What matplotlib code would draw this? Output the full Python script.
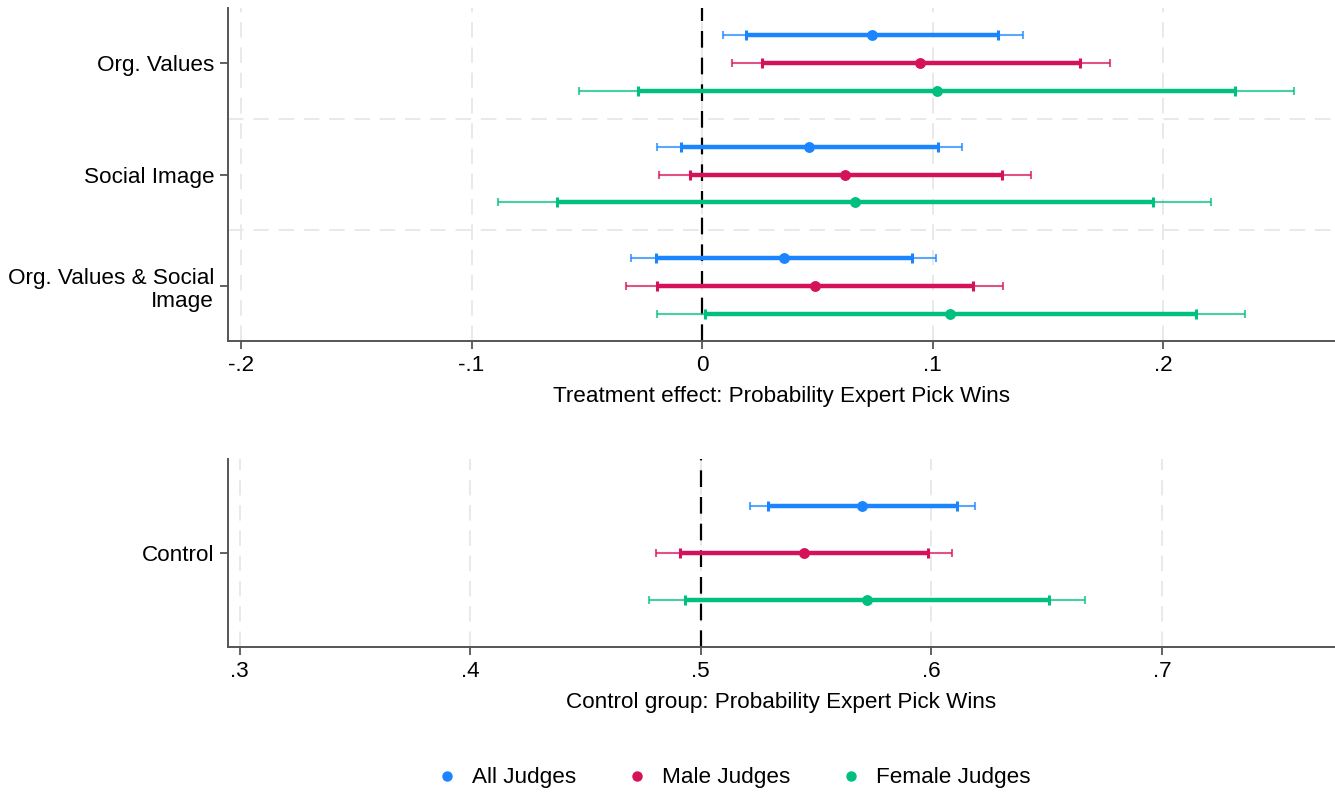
import numpy as np
import matplotlib.pyplot as plt
from matplotlib.lines import Line2D

plt.rcParams['font.family'] = ['Liberation Sans', 'DejaVu Sans']

# treatment effects, groups from top to bottom
groups = ["Org. Values", "Social Image", "Org. Values & Social\nImage"]

all_est = [0.0735, 0.0465, 0.0354]
all_lo95 = [0.0089, -0.0198, -0.0309]
all_hi95 = [0.1390, 0.1128, 0.1014]
all_lo90 = [0.0191, -0.0091, -0.0202]
all_hi90 = [0.1284, 0.1023, 0.0910]

male_est = [0.0945, 0.0620, 0.0490]
male_lo95 = [0.0128, -0.0186, -0.0330]
male_hi95 = [0.1770, 0.1427, 0.1305]
male_lo90 = [0.0260, -0.0053, -0.0195]
male_hi90 = [0.1637, 0.1299, 0.1174]

fem_est = [0.1017, 0.0663, 0.1075]
fem_lo95 = [-0.0533, -0.0885, -0.0195]
fem_hi95 = [0.2567, 0.2207, 0.2353]
fem_lo90 = [-0.0278, -0.0631, 0.0013]
fem_hi90 = [0.2311, 0.1955, 0.2142]

# control group levels
ctrl_label = ["Control"]
ctrl_est = [0.5701, 0.5448, 0.5720]
ctrl_lo95 = [0.5214, 0.4806, 0.4774]
ctrl_hi95 = [0.6189, 0.6090, 0.6667]
ctrl_lo90 = [0.5291, 0.4911, 0.4931]
ctrl_hi90 = [0.6110, 0.5986, 0.6510]

names = ["All Judges", "Male Judges", "Female Judges"]
colors = ["#1a85ff", "#d41159", "#00bf7f"]
offsets = [-0.25, 0.0, 0.25]

top_ticks = [-0.2, -0.1, 0, 0.1, 0.2]
top_ticklabels = ["-.2", "-.1", "0", ".1", ".2"]
bot_ticks = [0.3, 0.4, 0.5, 0.6, 0.7]
bot_ticklabels = [".3", ".4", ".5", ".6", ".7"]

FS = 16.2
grid_kw = dict(color="#e9e9e9", lw=1.4, dashes=(8, 5), zorder=0)


def draw_ci(ax, y, est, lo95, hi95, lo90, hi90, color):
    y = np.asarray(y)
    est = np.asarray(est)
    ax.errorbar(est, y, xerr=[est - np.asarray(lo95), np.asarray(hi95) - est],
                fmt="none", ecolor=color, alpha=0.72, elinewidth=1.5,
                capsize=2.6, capthick=1.5, zorder=3)
    ax.errorbar(est, y, xerr=[est - np.asarray(lo90), np.asarray(hi90) - est],
                fmt="none", ecolor=color, elinewidth=3.2,
                capsize=3.4, capthick=2.2, zorder=4)
    ax.plot(est, y, "o", color=color, ms=6.8, zorder=5)


def style_axis(ax):
    for s in ["top", "right"]:
        ax.spines[s].set_visible(False)
    for s in ["left", "bottom"]:
        ax.spines[s].set_color("#555555")
        ax.spines[s].set_linewidth(1.4)
    ax.tick_params(axis="both", length=6, width=1.3, color="#555555",
                   labelsize=FS, pad=4)


fig = plt.figure(figsize=(13.35, 7.94), dpi=100)

# top panel
ax1 = fig.add_axes([0.1708, 0.5705, 0.8292, 0.4194])
ypos = np.arange(1, len(groups) + 1)
series = [
    (all_est, all_lo95, all_hi95, all_lo90, all_hi90),
    (male_est, male_lo95, male_hi95, male_lo90, male_hi90),
    (fem_est, fem_lo95, fem_hi95, fem_lo90, fem_hi90),
]
for (est, l95, h95, l90, h90), c, off in zip(series, colors, offsets):
    draw_ci(ax1, ypos + off, est, l95, h95, l90, h90, c)
for t in top_ticks:
    ax1.axvline(t, **grid_kw)
for yy in ypos[:-1] + 0.5:
    ax1.axhline(yy, **grid_kw)
ax1.axvline(0, color="black", lw=1.6, dashes=(7.5, 4.5), zorder=2)
ax1.set_xlim(-0.2056, 0.2744)
ax1.set_ylim(3.49, 0.51)
ax1.set_yticks(ypos)
ax1.set_yticklabels(groups, ha="right")
for lab in ax1.get_yticklabels():
    lab.set_linespacing(1.15)
ax1.set_xticks(top_ticks)
ax1.set_xticklabels(top_ticklabels)
ax1.set_xlabel("Treatment effect: Probability Expert Pick Wins", fontsize=FS, labelpad=7)
style_axis(ax1)

# bottom panel
ax2 = fig.add_axes([0.1708, 0.1851, 0.8292, 0.2368])
for i, (c, off) in enumerate(zip(colors, offsets)):
    draw_ci(ax2, [1 + off], [ctrl_est[i]], [ctrl_lo95[i]], [ctrl_hi95[i]],
            [ctrl_lo90[i]], [ctrl_hi90[i]], c)
for t in bot_ticks:
    ax2.axvline(t, **grid_kw)
ax2.axvline(0.5, color="black", lw=1.6, dashes=(7.5, 4.5), zorder=2)
ax2.set_xlim(0.2950, 0.7750)
ax2.set_ylim(1.5, 0.5)
ax2.set_yticks([1])
ax2.set_yticklabels(ctrl_label)
ax2.set_xticks(bot_ticks)
ax2.set_xticklabels(bot_ticklabels)
ax2.set_xlabel("Control group: Probability Expert Pick Wins", fontsize=FS, labelpad=7)
style_axis(ax2)

handles = [Line2D([], [], ls="none", marker="o", color=c, ms=6.5) for c in colors]
fig.legend(handles, names, loc="center", bbox_to_anchor=(0.55, 1 - 778 / 794),
           ncol=3, frameon=False, fontsize=FS, handlelength=0.8,
           handletextpad=0.7, columnspacing=2.3)

fig.savefig("out.png", dpi=100)
